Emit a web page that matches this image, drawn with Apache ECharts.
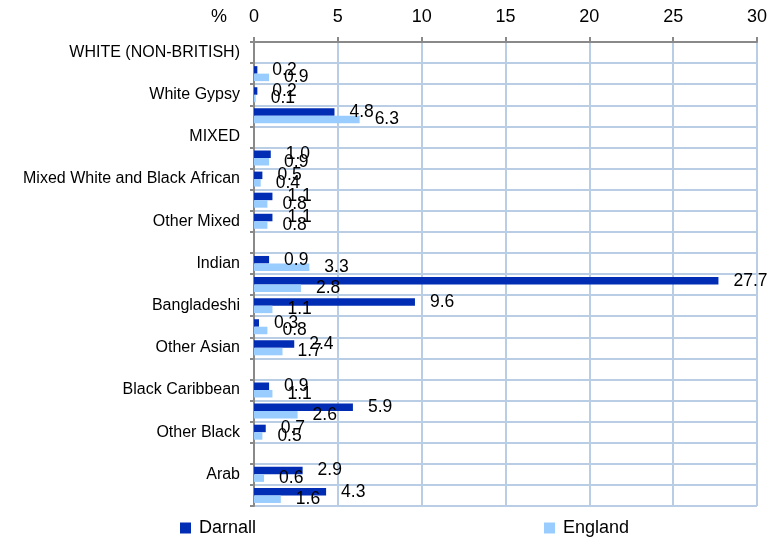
<!DOCTYPE html>
<html>
<head>
<meta charset="utf-8">
<script src="https://cdn.jsdelivr.net/npm/echarts@6/dist/echarts.min.js"></script>
<style>
  html, body { margin: 0; padding: 0; background: #fff; }
  #chart { width: 776px; height: 538px; }
</style>
</head>
<body>
<div id="chart"></div>
<script>
const categories = [
  "WHITE (NON-BRITISH)", "White Irish", "White Gypsy", "Other White",
  "MIXED", "Mixed White and Black Caribbean", "Mixed White and Black African",
  "Mixed White and Asian", "Other Mixed",
  "ASIAN", "Indian", "Pakistani", "Bangladeshi", "Chinese", "Other Asian",
  "BLACK", "Black Caribbean", "Black African", "Other Black",
  "OTHER", "Arab", "Any Other"
];
const darnall = ["-", 0.2, 0.2, 4.8, "-", 1.0, 0.5, 1.1, 1.1, "-", 0.9, 27.7, 9.6, 0.3, 2.4, "-", 0.9, 5.9, 0.7, "-", 2.9, 4.3];
const england = ["-", 0.9, 0.1, 6.3, "-", 0.9, 0.4, 0.8, 0.8, "-", 3.3, 2.8, 1.1, 0.8, 1.7, "-", 1.1, 2.6, 0.5, "-", 0.6, 1.6];

const FONT = "Liberation Sans, Arial, sans-serif";
const gridColor = "#b9cde5";
const axisColor = "#898989";

const chart = echarts.init(document.getElementById("chart"));

const barLabel = {
  show: true,
  position: "right",
  distance: 15,
  fontFamily: FONT,
  fontSize: 17.5,
  color: "#000",
  formatter: (p) => Number(p.value).toFixed(1),
};

const legendBase = {
  top: 519,
  padding: 0,
  icon: "rect",
  itemWidth: 11,
  itemHeight: 11,
  textStyle: { fontFamily: FONT, fontSize: 18, color: "#000", padding: [0, 0, 0, 3] },
  selectedMode: false,
};

chart.setOption({
  backgroundColor: "#fff",
  animation: false,
  title: {
    text: "%",
    left: 211,
    top: 8,
    padding: 0,
    textStyle: { fontFamily: FONT, fontSize: 18, fontWeight: "normal", color: "#000" },
  },
  legend: [
    Object.assign({ data: ["Darnall"], left: 180 }, legendBase),
    Object.assign({ data: ["England"], left: 544 }, legendBase),
  ],
  grid: { left: 254, right: 19, top: 42, bottom: 32, containLabel: false },
  xAxis: {
    type: "value",
    position: "top",
    min: 0,
    max: 30,
    interval: 5,
    axisLine: { show: true, lineStyle: { color: axisColor, width: 2 } },
    axisTick: { show: true, length: 5, lineStyle: { color: axisColor, width: 2 } },
    axisLabel: { fontFamily: FONT, fontSize: 18, color: "#000", margin: 16 },
    splitLine: { show: true, lineStyle: { color: gridColor, width: 2 } },
  },
  yAxis: {
    type: "category",
    inverse: true,
    data: categories,
    axisLine: { show: true, lineStyle: { color: axisColor, width: 2 } },
    axisTick: { show: true, interval: 0, length: 4, lineStyle: { color: axisColor, width: 2 } },
    axisLabel: { interval: 1, fontFamily: FONT, fontSize: 16, color: "#000", margin: 14 },
    splitLine: { show: true, interval: 0, lineStyle: { color: gridColor, width: 2 } },
  },
  series: [
    {
      name: "Darnall",
      type: "bar",
      data: darnall,
      barWidth: 7.5,
      barGap: "0%",
      itemStyle: { color: "#002db3" },
      label: barLabel,
    },
    {
      name: "England",
      type: "bar",
      data: england,
      barWidth: 7.5,
      itemStyle: { color: "#99ccff" },
      label: barLabel,
    },
  ],
});
</script>
</body>
</html>
